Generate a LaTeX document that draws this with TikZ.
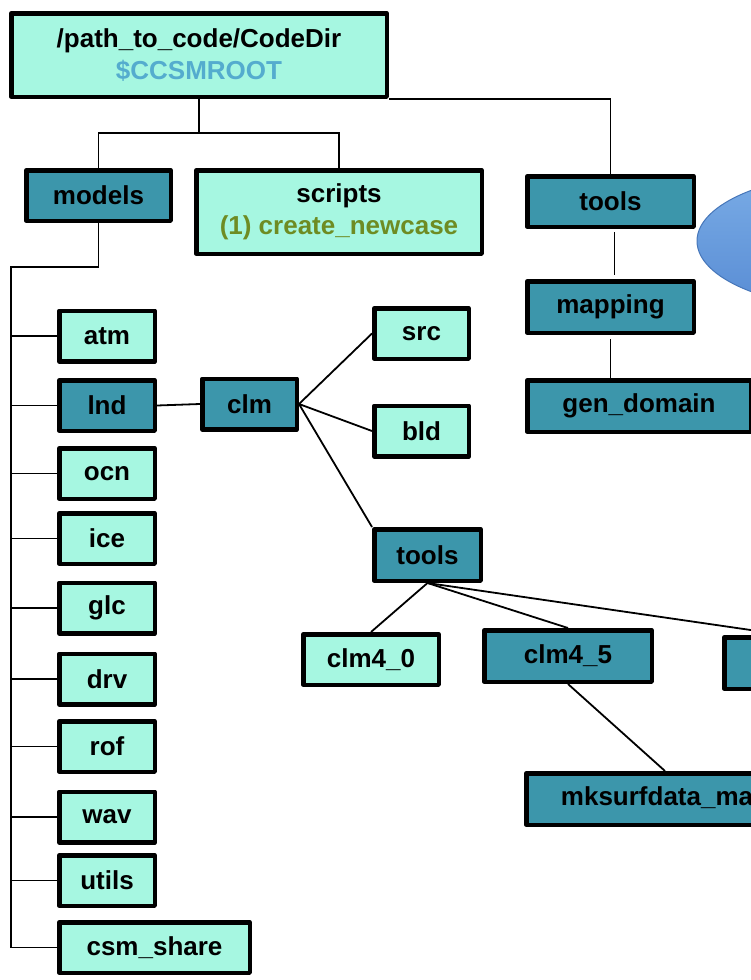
\documentclass[tikz,border=0pt]{standalone}
\usepackage{fontspec}
\setmainfont{Liberation Sans}
\usepackage{tikz}
\usetikzlibrary{positioning}

\definecolor{mint}{RGB}{166,247,225}
\definecolor{dirteal}{RGB}{60,150,171}
\definecolor{rootblue}{RGB}{84,172,206}
\definecolor{scriptgreen}{RGB}{110,140,35}
\definecolor{bubbletop}{RGB}{122,172,230}
\definecolor{bubblebot}{RGB}{88,140,212}
\definecolor{bubbleline}{RGB}{70,118,185}

\begin{document}
\begin{tikzpicture}[x=1pt, y=-1pt,
  every node/.style = {shape=rectangle, draw, line width=4.5pt,
    line join=round, inner sep=0pt, align=center,
    font=\bfseries\fontsize{26}{32}\selectfont},
  leaf/.style = {fill=mint},
  branch/.style = {fill=dirteal},
  link/.style = {line width=1.8pt}]
  \tikzstyle{small}=[minimum width=95.5pt, minimum height=50.5pt]

  \useasboundingbox (0,0) rectangle (751,980);
  \clip (0,0) rectangle (751,980);

  % speech bubble behind the right column
  \draw[line width=1pt, draw=bubbleline, top color=bubbletop,
    bottom color=bubblebot] (860,241) ellipse [x radius=163, y radius=68];

  % top level
  \node[leaf, minimum width=375.5pt, minimum height=83.5pt] (root) at (199,55)
    {/path\_to\_code/CodeDir\\ \textcolor{rootblue}{\$CCSMROOT}};
  \node[branch, minimum width=144.5pt, minimum height=50.5pt] (models) at (98.5,195.5) {models};
  \node[leaf, minimum width=285.5pt, minimum height=83.5pt] (scripts) at (339,212)
    {scripts\\ \textcolor{scriptgreen}{(1) create\_newcase}};
  \node[branch, minimum width=166.5pt, minimum height=50.5pt] (tools) at (610.5,201.5) {tools};
  \node[branch, minimum width=166.5pt, minimum height=51.5pt] (mapping) at (610.5,307) {mapping};
  \node[branch, minimum width=223.5pt, minimum height=51.5pt] (gendomain) at (639,406) {gen\_domain};

  % components under models
  \foreach \y/\name/\kind in {336/atm/leaf, 405.5/lnd/branch, 473.5/ocn/leaf,
      538.5/ice/leaf, 608/glc/leaf, 679/drv/leaf, 746.5/rof/leaf,
      817/wav/leaf, 880.5/utils/leaf}
    \node[\kind, small] (\name) at (107,\y) {\name};
  \node[leaf, minimum width=190.5pt, minimum height=50.5pt] (csmshare) at (154.5,947.5) {csm\_share};

  % land model tree
  \node[branch, small, minimum width=94.5pt] (clm) at (249.5,404) {clm};
  \node[leaf, small, minimum width=94.5pt] (src) at (421.5,333.5) {src};
  \node[leaf, small, minimum width=94.5pt] (bld) at (421.5,431) {bld};
  \node[branch, minimum width=106.5pt, minimum height=51.5pt] (clmtools) at (427.5,555) {tools};
  \node[leaf, minimum width=135.5pt, minimum height=50.5pt] (clmfour) at (371,659.5) {clm4\_0};
  \node[branch, minimum width=167.5pt, minimum height=51.5pt] (clmfive) at (568,656) {clm4\_5};
  \node[branch, minimum width=121.5pt, minimum height=51.5pt] (clmnext) at (785,663) {};
  \node[branch, minimum width=277.5pt, minimum height=51.5pt] (mksurf) at (665,799) {mksurfdata\_map};

  % connectors
  \draw[link] (root.south) -- (199,133) coordinate (split);
  \draw[link] (models.north) |- (split) -| (scripts.north);
  \draw[link] (root.south east) -| (tools.north);
  \draw[link] ([xshift=4pt,yshift=-3pt]tools.south) -- ([xshift=4pt,yshift=4pt]mapping.north);
  \draw[link] ([yshift=-4pt]mapping.south) -- (mapping.south |- gendomain.north);

  \coordinate (trunk) at (11,267);
  \draw[link] (models.south) |- (trunk) -- (trunk |- csmshare.west) -- (csmshare.west);
  \foreach \name in {atm,lnd,ocn,ice,glc,drv,rof,wav,utils}
    \draw[link] (trunk |- \name.west) -- (\name.west);

  \draw[link] (lnd.east) -- (clm.west);
  \draw[link] (clm.east) -- (src.west);
  \draw[link] (clm.east) -- (bld.west);
  \draw[link] (clm.east) -- (clmtools.north west);
  \draw[link] (clmtools.south) -- (clmfour.north);
  \draw[link] (clmtools.south) -- (clmfive.north);
  \draw[link] (clmtools.south) -- (clmnext.north);
  \draw[link] (clmfive.south) -- (mksurf.north);
\end{tikzpicture}
\end{document}
